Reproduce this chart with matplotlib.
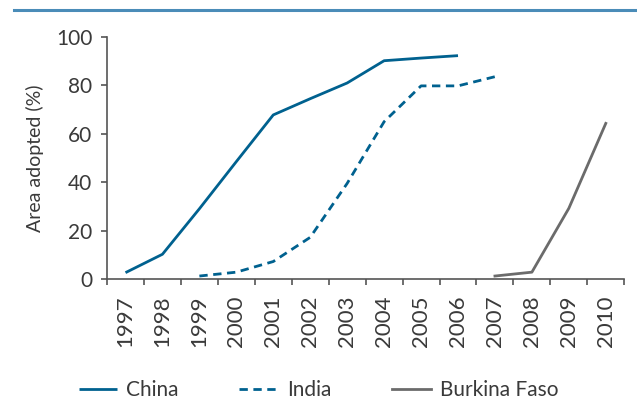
import matplotlib
matplotlib.use("Agg")
import matplotlib.pyplot as plt
from matplotlib.lines import Line2D
import numpy as np

years = ["1997", "1998", "1999", "2000", "2001", "2002", "2003",
         "2004", "2005", "2006", "2007", "2008", "2009", "2010"]
china = [2.6, 10.2, 29.0, 48.5, 67.8, 74.5, 81.0, 90.2, 91.3, 92.3,
         None, None, None, None]
india = [None, None, 1.2, 2.8, 7.2, 17.2, 39.5, 65.0, 79.8, 79.8, 83.6,
         None, None, None]
burkina = [None, None, None, None, None, None, None, None, None, None,
           1.2, 2.8, 29.2, 64.3]
yticks = [0, 20, 40, 60, 80, 100]

BLUE = "#00618f"
GRAY = "#6b6b6b"
TXT = "#3a3a3a"
AX = "#555555"

plt.rcParams['font.family'] = ['Lato', 'DejaVu Sans']
plt.rcParams['font.weight'] = 'normal'

fig = plt.figure(figsize=(6.37, 4.09), dpi=100)
ax = fig.add_axes([0.168, 0.318, 0.812, 0.5915])

x = np.arange(len(years))
def arr(v):
    return np.array([np.nan if a is None else a for a in v], dtype=float)

ax.plot(x, arr(china), color=BLUE, lw=2.0, label="China", solid_capstyle='butt')
ax.plot(x, arr(india), color=BLUE, lw=2.0, ls=(0, (3, 2.0)), label="India")
ax.plot(x, arr(burkina), color=GRAY, lw=2.0, label="Burkina Faso")

ax.set_xlim(-0.5, len(years) - 0.5)
ax.set_ylim(0, 100)
ax.set_yticks(yticks)
ax.set_yticklabels([str(t) for t in yticks], fontsize=15, color=TXT)
ax.set_xticks(np.arange(-0.5, len(years), 1.0))
ax.set_xticklabels([])
ax.set_xticks(x, minor=True)
ax.set_xticklabels(years, minor=True, rotation=90, fontsize=16, color=TXT)
ax.tick_params(axis='x', which='minor', length=0, pad=12)
ax.tick_params(axis='x', which='major', length=4.5, width=1.2, color=AX, direction='out')
ax.tick_params(axis='y', length=4.5, width=1.2, color=AX, direction='out', pad=6)
ax.set_ylabel("Area adopted (%)", fontsize=14, color=TXT, labelpad=9,
              fontweight='normal')

for s in ['top', 'right']:
    ax.spines[s].set_visible(False)
for s in ['left', 'bottom']:
    ax.spines[s].set_color(AX)
    ax.spines[s].set_linewidth(1.2)

fig.add_artist(Line2D([14/637, 1.0], [1 - 10/409, 1 - 10/409],
                      color="#4a8cb8", lw=2.2, transform=fig.transFigure))

handles, labels = ax.get_legend_handles_labels()
leg = fig.legend(handles, labels, loc='center', bbox_to_anchor=(0.5, 1 - 390/409),
                 ncol=3, frameon=False, fontsize=15, handlelength=1.85,
                 columnspacing=2.9, handletextpad=0.45)
for t in leg.get_texts():
    t.set_color(TXT)

fig.savefig("out.png", dpi=100)
